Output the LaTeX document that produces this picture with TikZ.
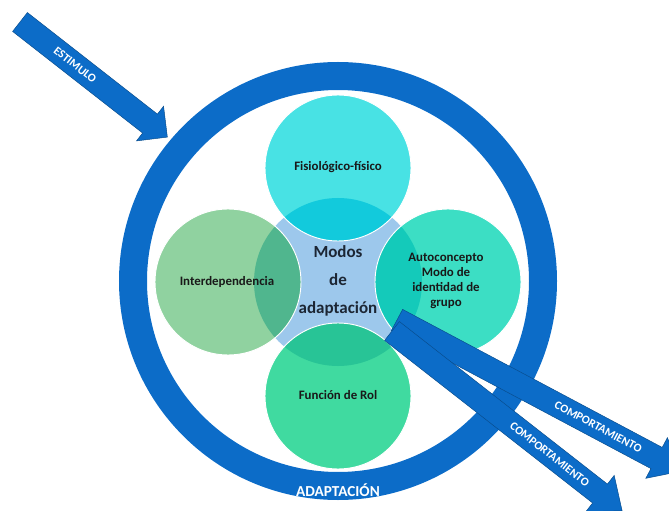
\documentclass[tikz,border=0pt]{standalone}
\usepackage{fontspec}
\setmainfont{Carlito}
\usepackage{tikz}

\definecolor{azul}{RGB}{12,108,200}
\definecolor{centro}{RGB}{157,200,236}
\definecolor{fisio}{RGB}{72,226,228}
\definecolor{fisioosc}{RGB}{18,202,220}
\definecolor{inter}{RGB}{144,210,160}
\definecolor{interosc}{RGB}{80,182,142}
\definecolor{autocon}{RGB}{60,222,196}
\definecolor{autoconosc}{RGB}{20,202,186}
\definecolor{rol}{RGB}{64,218,160}
\definecolor{rolosc}{RGB}{40,196,150}
\definecolor{tinta}{RGB}{28,38,52}

\tikzset{
  flecha/.style={fill=azul, draw=azul!70!black, line width=0.4pt},
  rotulo/.style={text=white, font=\bfseries\fontsize{10}{12}\selectfont, transform shape},
  modo/.style={text=black!90, align=center, font=\bfseries\fontsize{11}{13}\selectfont},
  borde/.style={draw=white, line width=0.8pt},
}

\begin{document}
\begin{tikzpicture}[x=0.03cm,y=-0.03cm]
  \useasboundingbox (0,0) rectangle (669,511);

  % anillo de adaptacion
  \draw[azul, line width=0.84cm] (338,281) circle (205);

  % circulo central
  \fill[centro] (338,282) circle (84);

  % los cuatro modos
  \fill[fisio] (338,168) circle (73);
  \begin{scope}
    \clip (338,168) circle (73);
    \fill[fisioosc] (338,282) circle (84);
  \end{scope}
  \draw[borde] (338,168) circle (73);

  \fill[inter] (228,282) circle (73);
  \begin{scope}
    \clip (228,282) circle (73);
    \fill[interosc] (338,282) circle (84);
  \end{scope}
  \draw[borde] (228,282) circle (73);

  \fill[autocon] (448,282) circle (73);
  \begin{scope}
    \clip (448,282) circle (73);
    \fill[autoconosc] (338,282) circle (84);
  \end{scope}
  \draw[borde] (448,282) circle (73);

  \fill[rol] (338,396) circle (73);
  \begin{scope}
    \clip (338,396) circle (73);
    \fill[rolosc] (338,282) circle (84);
  \end{scope}
  \draw[borde] (338,396) circle (73);

  \node[modo] (fisiologico) at (338,167) {Fisiológico-físico};
  \node[modo] (interdep) at (227,282) {Interdependencia};
  \node[modo] (autoconcepto) at (446,281) {Autoconcepto\\Modo de\\identidad de\\grupo};
  \node[modo] (funcion) at (338,395) {Función de Rol};
  \node[align=center, text=tinta, font=\bfseries\fontsize{14.5}{24}\selectfont] (modos) at (338,281) {Modos\\de\\adaptación};

  \node[text=white, font=\bfseries\fontsize{13}{15}\selectfont] (adaptacion) at (338,490) {ADAPTACIÓN};

  % estimulo
  \begin{scope}[shift={(20,22)}, rotate=-38]
    \draw[flecha] (0,-12) -- (165,-12) -- (165,-22) -- (187,0) -- (165,22) -- (165,12) -- (0,12) -- cycle;
    \node[rotulo] (estimulo) at (70,0) {ESTIMULO};
  \end{scope}

  % comportamiento
  \begin{scope}[shift={(397,320)}, rotate=-28]
    \draw[flecha] (0,-12) -- (294,-12) -- (294,-23) -- (322,0) -- (294,23) -- (294,12) -- (0,12) -- cycle;
    \node[rotulo] (comp1) at (228,0) {COMPORTAMIENTO};
  \end{scope}
  \begin{scope}[shift={(392,331)}, rotate=-38]
    \draw[flecha] (0,-12) -- (264,-12) -- (264,-23) -- (292,0) -- (264,23) -- (264,12) -- (0,12) -- cycle;
    \node[rotulo] (comp2) at (200,0) {COMPORTAMIENTO};
  \end{scope}
\end{tikzpicture}
\end{document}
